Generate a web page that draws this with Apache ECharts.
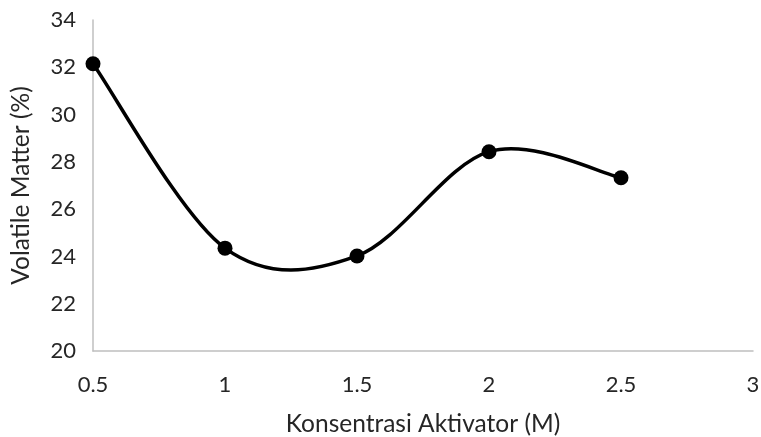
<!DOCTYPE html>
<html>
<head>
<meta charset="utf-8">
<script src="https://cdn.jsdelivr.net/npm/echarts@6/dist/echarts.min.js"></script>
<style>html,body{margin:0;padding:0;background:#fff}#c{width:761px;height:437px}</style>
</head>
<body>
<div id="c"></div>
<script>
const xValues = [0.5, 1, 1.5, 2, 2.5];
const volatileMatter = [32.15, 24.35, 24.02, 28.43, 27.33];
const xAxisTitle = 'Konsentrasi Aktivator (M)';
const yAxisTitle = 'Volatile Matter (%)';

const points = xValues.map((x, i) => [x, volatileMatter[i]]);
const chart = echarts.init(document.getElementById('c'), null, {renderer: 'canvas'});
const font = 'Lato, "Open Sans", sans-serif';
const txt = '#262626';
const fs = 22;
const fsTitle = 24.5;

// Smoothed line (Catmull-Rom style Bezier, as in spreadsheet smoothed lines)
function renderSegment(params, api) {
  const i = params.dataIndex;
  const n = points.length;
  if (i >= n - 1) return null;
  const P = k => api.coord(points[Math.max(0, Math.min(n - 1, k))]);
  const p0 = P(i - 1), p1 = P(i), p2 = P(i + 1), p3 = P(i + 2);
  return {
    type: 'bezierCurve',
    shape: {
      x1: p1[0], y1: p1[1], x2: p2[0], y2: p2[1],
      cpx1: p1[0] + (p2[0] - p0[0]) / 6, cpy1: p1[1] + (p2[1] - p0[1]) / 6,
      cpx2: p2[0] - (p3[0] - p1[0]) / 6, cpy2: p2[1] - (p3[1] - p1[1]) / 6
    },
    style: {stroke: '#000', lineWidth: 3.5, fill: null, lineCap: 'round'}
  };
}

chart.setOption({
  animation: false,
  grid: {left: 93, right: 8, top: 20, bottom: 86, containLabel: false, outerBoundsMode: 'none'},
  xAxis: {
    type: 'value', min: 0.5, max: 3, interval: 0.5,
    axisLine: {show: true, lineStyle: {color: '#BFBFBF', width: 1.5}},
    axisTick: {show: false},
    splitLine: {show: false},
    axisLabel: {color: txt, fontFamily: font, fontSize: fs, margin: 23},
    name: xAxisTitle, nameLocation: 'middle', nameGap: 61,
    nameTextStyle: {color: txt, fontFamily: font, fontSize: fsTitle}
  },
  yAxis: {
    type: 'value', min: 20, max: 34, interval: 2,
    axisLine: {show: true, lineStyle: {color: '#BFBFBF', width: 1.5}},
    axisTick: {show: false},
    splitLine: {show: false},
    axisLabel: {color: txt, fontFamily: font, fontSize: fs, margin: 17},
    name: yAxisTitle, nameLocation: 'middle', nameGap: 59, nameRotate: 90,
    nameTextStyle: {color: txt, fontFamily: font, fontSize: fsTitle}
  },
  series: [{
    type: 'custom',
    data: points,
    renderItem: renderSegment,
    encode: {x: 0, y: 1},
    z: 2
  }, {
    type: 'scatter',
    data: points,
    symbol: 'circle', symbolSize: 15,
    itemStyle: {color: '#000', opacity: 1},
    z: 3
  }]
});
</script>
</body>
</html>
